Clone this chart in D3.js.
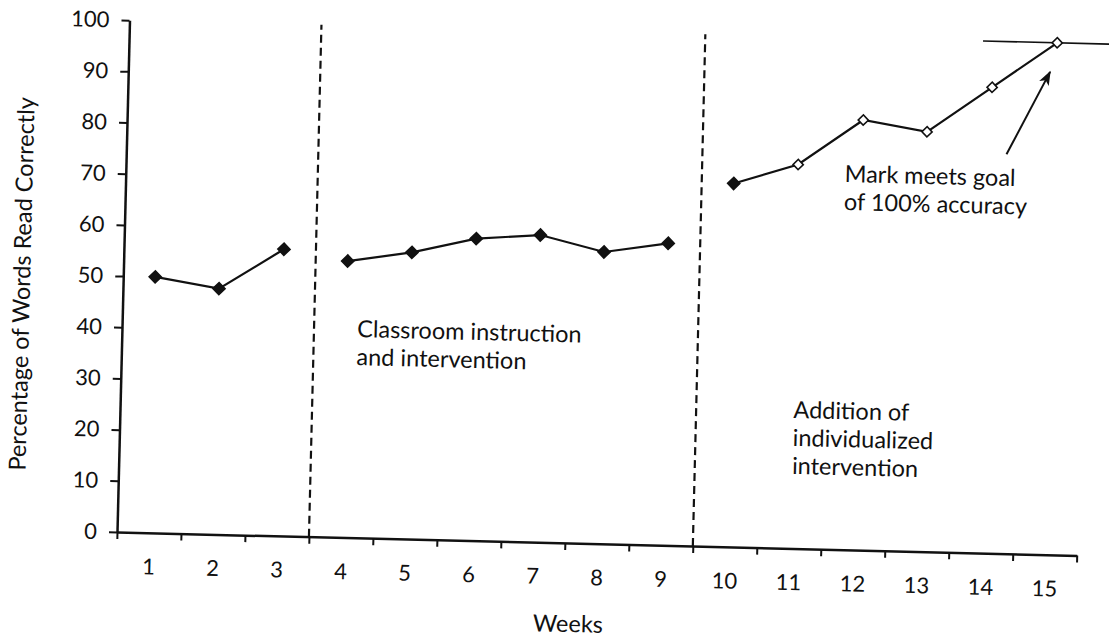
<!DOCTYPE html>
<html>
<head>
<meta charset="utf-8">
<script src="https://cdn.jsdelivr.net/npm/d3@7"></script>
<style>
  html, body { margin: 0; padding: 0; background: #fff; }
  svg { display: block; font-family: Lato, 'Open Sans', sans-serif; }
</style>
</head>
<body>
<div id="chart"></div>
<script>
// Data
const weeks = [1, 2, 3, 4, 5, 6, 7, 8, 9, 10, 11, 12, 13, 14, 15];
const pctCorrect = [50, 48, 56, 54, 56, 59, 60, 57, 59, 71, 75, 84, 82, 91, 100];
const phaseBreaks = [3.5, 9.5];          // dashed lines between phases
const firstOpenWeek = 11;                // open diamonds from here on
const yTicks = [0, 10, 20, 30, 40, 50, 60, 70, 80, 90, 100];
const goalValue = 100;
const goalSpan = [13.84, 15.9];
const arrowFrom = [14.25, 78];
const arrowTo = [14.9, 94.3];

const W = 1109, H = 639;
const ORIGIN = [117, 532];
const TILT = 1.4;   // the scanned page is slightly rotated
const PLOT_W = 960, PLOT_H = 512;
const TICK_FONT = 22;
const TEXT_FONT = 23.5;

const svg = d3.select('#chart').append('svg')
    .attr('width', W)
    .attr('height', H);

svg.append('rect').attr('width', W).attr('height', H).attr('fill', '#fff');

const defs = svg.append('defs');
defs.append('marker')
    .attr('id', 'arrow')
    .attr('viewBox', '0 0 12 10')
    .attr('refX', 11)
    .attr('refY', 5)
    .attr('markerWidth', 15)
    .attr('markerHeight', 12)
    .attr('markerUnits', 'userSpaceOnUse')
    .attr('orient', 'auto')
    .append('path')
    .attr('d', 'M0,0.5 L12,5 L0,9.5 L3,5 Z')
    .attr('fill', '#111');

const g = svg.append('g')
    .attr('transform', `translate(${ORIGIN}) rotate(${TILT})`);

// Scales
const x = d3.scaleLinear().domain([0.5, 15.5]).range([0, PLOT_W]);
const y = d3.scaleLinear().domain([0, 100]).range([0, -PLOT_H]);

const styleAxis = (sel) => {
    sel.attr('font-family', null).attr('font-size', null);
    sel.select('.domain').attr('stroke', '#111').attr('stroke-width', 2.5);
    sel.selectAll('.tick line').attr('stroke', '#111').attr('stroke-width', 2);
    sel.selectAll('.tick text').attr('fill', '#111').style('font-size', TICK_FONT + 'px');
};

// Y axis
g.append('g')
    .call(d3.axisLeft(y).tickValues(yTicks).tickSize(8).tickPadding(12).tickSizeOuter(0))
    .call(styleAxis);

// X axis: tick marks sit on week boundaries, labels at week centres
const weekEdges = weeks.map((w) => w - 0.5).concat(weeks[weeks.length - 1] + 0.5);
g.append('g')
    .call(d3.axisBottom(x).tickValues(weekEdges).tickSize(7).tickSizeOuter(0).tickFormat(''))
    .call(styleAxis);

g.append('g')
    .call(d3.axisBottom(x).tickValues(weeks).tickSize(0).tickPadding(26))
    .call(styleAxis)
    .call((a) => a.select('.domain').remove());

// Axis titles
g.append('text')
    .attr('transform', `translate(-93, ${y(48)}) rotate(-90)`)
    .attr('text-anchor', 'middle')
    .style('font-size', TEXT_FONT + 'px')
    .attr('fill', '#111')
    .text('Percentage of Words Read Correctly');

g.append('text')
    .attr('x', x(7.58))
    .attr('y', 89)
    .attr('text-anchor', 'middle')
    .style('font-size', TEXT_FONT + 'px')
    .attr('fill', '#111')
    .text('Weeks');

// Phase change lines
g.selectAll('line.phase')
    .data(phaseBreaks)
    .join('line')
    .attr('class', 'phase')
    .attr('x1', (d) => x(d))
    .attr('x2', (d) => x(d))
    .attr('y1', y(0))
    .attr('y2', y(100))
    .attr('stroke', '#111')
    .attr('stroke-width', 2.2)
    .attr('stroke-dasharray', '8,5');

// Data split into phases
const points = weeks.map((w, i) => ({ week: w, value: pctCorrect[i] }));
const phaseOf = (w) => phaseBreaks.filter((b) => w > b).length;
const phases = d3.groups(points, (d) => phaseOf(d.week)).map((p) => p[1]);

const line = d3.line()
    .x((d) => x(d.week))
    .y((d) => y(d.value));

g.selectAll('path.series')
    .data(phases)
    .join('path')
    .attr('class', 'series')
    .attr('d', line)
    .attr('fill', 'none')
    .attr('stroke', '#111')
    .attr('stroke-width', 2.2);

// Goal line
g.append('line')
    .attr('x1', x(goalSpan[0]))
    .attr('x2', x(goalSpan[1]))
    .attr('y1', y(goalValue))
    .attr('y2', y(goalValue))
    .attr('stroke', '#111')
    .attr('stroke-width', 1.6);

// Markers
const diamond = d3.symbol().type(d3.symbolSquare);
g.selectAll('path.mark')
    .data(points)
    .join('path')
    .attr('class', 'mark')
    .attr('d', (d) => diamond.size(d.week >= firstOpenWeek ? 52 : 74)())
    .attr('transform', (d) => `translate(${x(d.week)},${y(d.value)}) rotate(45)`)
    .attr('fill', (d) => d.week >= firstOpenWeek ? '#fff' : '#111')
    .attr('stroke', '#111')
    .attr('stroke-width', 1.6);

// Annotations
const note = (week, value, lines) => {
    g.append('text')
        .attr('x', x(week))
        .attr('y', y(value))
        .style('font-size', TEXT_FONT + 'px')
        .attr('fill', '#111')
        .selectAll('tspan')
        .data(lines)
        .join('tspan')
        .attr('x', x(week))
        .attr('dy', (_d, i) => i === 0 ? 0 : 28)
        .text((d) => d);
};

note(4.175, 39.2, ['Classroom instruction', 'and intervention']);
note(11.02, 25.5, ['Addition of', 'individualized', 'intervention']);
note(11.73, 71.8, ['Mark meets goal', 'of 100% accuracy']);

g.append('line')
    .attr('x1', x(arrowFrom[0]))
    .attr('y1', y(arrowFrom[1]))
    .attr('x2', x(arrowTo[0]))
    .attr('y2', y(arrowTo[1]))
    .attr('stroke', '#111')
    .attr('stroke-width', 2)
    .attr('marker-end', 'url(#arrow)');
</script>
</body>
</html>
